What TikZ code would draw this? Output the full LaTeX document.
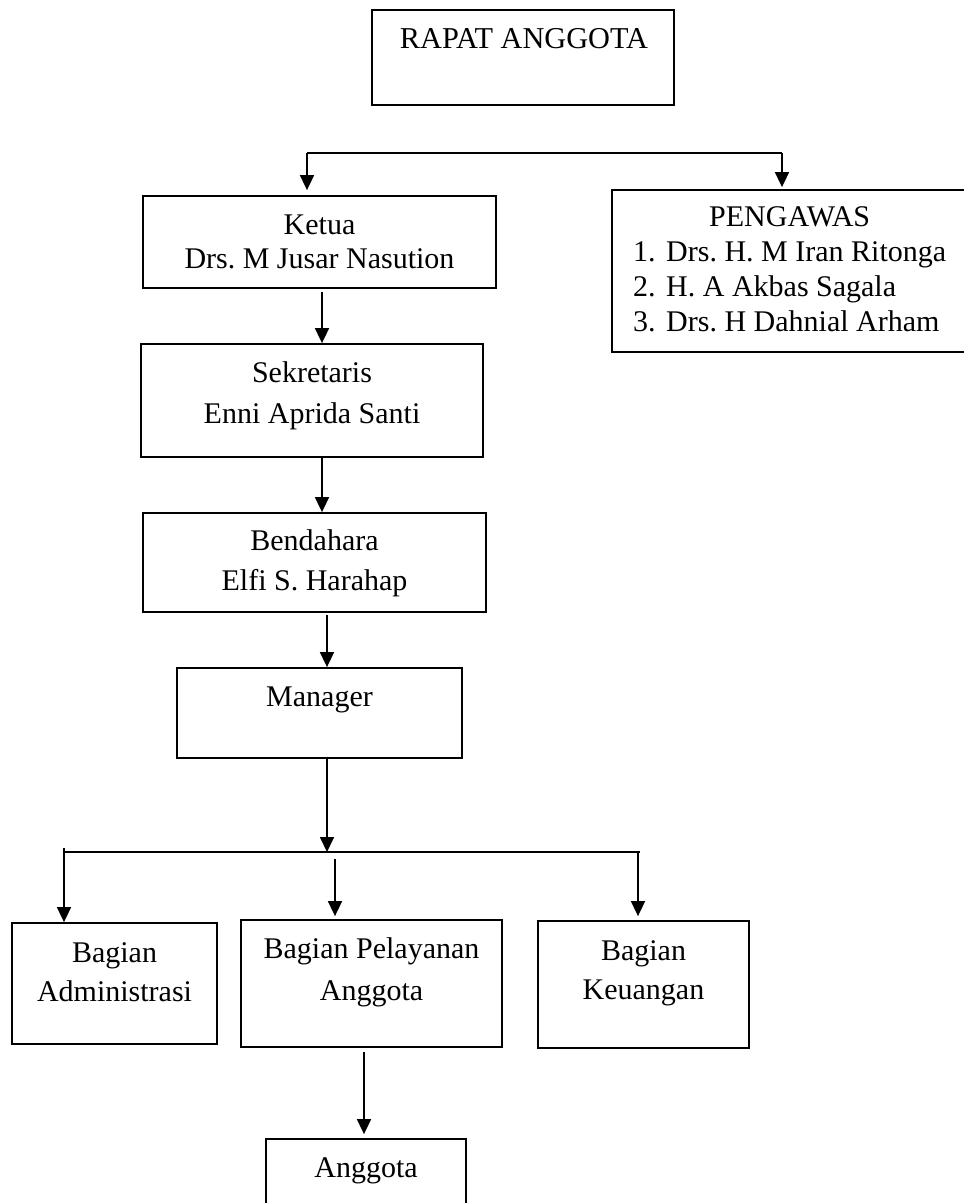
\documentclass[tikz,border=0pt]{standalone}
\usepackage{fontspec}
\setmainfont{Liberation Serif}
\usetikzlibrary{arrows.meta}
\frenchspacing
\newcommand\mylines[2]{\fontsize{30}{#1}\selectfont\begin{tabular}[t]{@{}c@{}}#2\end{tabular}}
\begin{document}
\frenchspacing
\begin{tikzpicture}[x=1pt,y=-1pt,
  box/.style={draw, line width=1.8pt, rectangle, inner sep=0pt},
  lbl/.style={inner sep=0pt, anchor=base, font=\fontsize{30}{35}\selectfont\frenchspacing},
  line/.style={line width=1.7pt},
  arr/.style={line width=1.7pt, -{Triangle[width=14pt,length=15pt]}}]
\clip (0,0) rectangle (964,1203);
\fill[white] (0,0) rectangle (964,1203);
% boxes
\node[box, minimum width=302pt, minimum height=95pt] (rapat) at (523,57.5) {};
\node[box, minimum width=353pt, minimum height=92pt] (ketua) at (319.5,242) {};
\node[box, minimum width=358pt, minimum height=162pt] (peng) at (791,271) {};
\node[box, minimum width=342pt, minimum height=113pt] (sek) at (312,400.5) {};
\node[box, minimum width=343pt, minimum height=99pt] (bend) at (314.5,562.5) {};
\node[box, minimum width=285pt, minimum height=90pt] (man) at (319.5,713) {};
\node[box, minimum width=205pt, minimum height=121pt] (adm) at (114.5,983.5) {};
\node[box, minimum width=261pt, minimum height=127pt] (pel) at (371.5,983.5) {};
\node[box, minimum width=211pt, minimum height=127pt] (keu) at (643.5,984.5) {};
\node[box, minimum width=200pt, minimum height=91pt] (ang) at (366,1184.5) {};
% texts
\node[lbl] (rapatT) at (524,48) {\fontsize{30.3}{35}\selectfont RAPAT ANGGOTA};
\node[lbl] (ketuaT) at (319.5,234) {\mylines{34}{Ketua\\Drs. M Jusar Nasution}};
\node[lbl] (sekT) at (312,382) {\mylines{41}{Sekretaris\\Enni Aprida Santi}};
\node[lbl] (bendT) at (314.5,550) {\mylines{40}{Bendahara\\Elfi S. Harahap}};
\node[lbl] (manT) at (319.5,706) {Manager};
\node[lbl] (admT) at (114.5,962) {\mylines{39}{Bagian\\Administrasi}};
\node[lbl] (pelT) at (371.5,958) {\mylines{42}{Bagian Pelayanan\\Anggota}};
\node[lbl] (keuT) at (643.5,960) {\mylines{39}{Bagian\\Keuangan}};
\node[lbl] (angT) at (366,1177) {Anggota};
\node[lbl, anchor=base west] (pengT) at (633,226) {\fontsize{30}{35.3}\selectfont
  \begin{tabular}[t]{@{}l@{}l@{}}
  \multicolumn{2}{@{}c@{}}{PENGAWAS}\\
  \makebox[33pt][l]{1.}&Drs. H. M Iran Ritonga\\
  \makebox[33pt][l]{2.}&H. A Akbas Sagala\\
  \makebox[33pt][l]{3.}&Drs. H Dahnial Arham
  \end{tabular}};
% junction coordinates
\coordinate (jL) at (307,153);
\coordinate (jR) at (782,153);
\coordinate (k1) at (322,292);
\coordinate (s1) at (322,457);
\coordinate (b1) at (327,615);
\coordinate (mbar) at (327,852);
\coordinate (barL) at (64,852);
\coordinate (barR) at (640,852);
\coordinate (midT) at (335,859);
\coordinate (rgtT) at (638,852);
\coordinate (p1) at (364,1052);
% connectors
\draw[line] (jL) -- (jR);
\draw[arr, shorten >=5pt] (jL) -- (jL |- ketua.north);
\draw[arr, shorten >=2pt] (jR) -- (jR |- peng.north);
\draw[arr] (k1) -- (k1 |- sek.north);
\draw[arr] (s1) -- (s1 |- bend.north);
\draw[arr] (b1) -- (b1 |- man.north);
\draw[arr] (mbar |- man.south) -- (mbar);
\draw[line] (barL) -- (barR);
\draw[arr] ([yshift=4pt]barL) -- (barL |- adm.north);
\draw[arr, shorten >=3pt] (midT) -- (midT |- pel.north);
\draw[arr, shorten >=4pt] (rgtT) -- (rgtT |- keu.north);
\draw[arr, shorten >=4pt] (p1) -- (p1 |- ang.north);
\end{tikzpicture}
\end{document}
